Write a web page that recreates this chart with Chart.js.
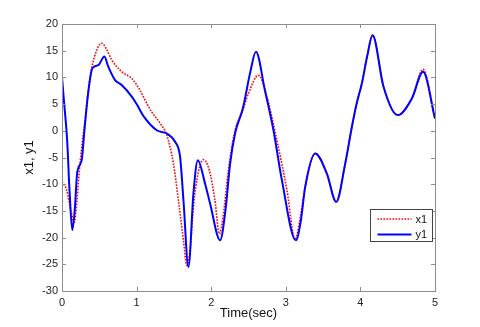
<!DOCTYPE html>
<html>
<head>
<meta charset="utf-8">
<script src="https://cdn.jsdelivr.net/npm/chart.js@4.4.0/dist/chart.umd.min.js"></script>
<style>
  html, body { margin: 0; padding: 0; background: #fff; }
  #c { display: block; }
</style>
</head>
<body>
<canvas id="c" width="480" height="327"></canvas>
<script>
// ---- Data ----
const x1Time = [0, 0.063, 0.12, 0.165, 0.2, 0.241, 0.309, 0.376, 0.45, 0.532, 0.6, 0.667, 0.8, 0.935, 1.046, 1.113, 1.2, 1.315, 1.405, 1.493, 1.56, 1.628, 1.673, 1.72, 1.762, 1.829, 1.896, 1.975, 2.05, 2.11, 2.16, 2.23, 2.32, 2.41, 2.5, 2.633, 2.746, 2.88, 3.015, 3.125, 3.19, 3.26, 3.394, 3.55, 3.676, 3.797, 3.886, 3.95, 4.02, 4.09, 4.163, 4.31, 4.5, 4.69, 4.84, 5.0];
const x1Values = [-9.5, -11.1, -15, -17.1, -13, -6.1, 2, 10.1, 14.5, 16.4, 15.2, 13.25, 11.06, 9.8, 7.6, 5.75, 3.6, 1.4, -0.8, -6.1, -13, -20.5, -25.2, -22, -14.25, -7.7, -5.4, -7.4, -13, -19.3, -16, -7.4, 0.1, 3.25, 7, 10.4, 6.4, -1.75, -11.1, -20.4, -16.5, -10.5, -4.25, -8, -13.3, -6.1, 0.75, 5.1, 8.9, 13.9, 17.9, 8.25, 2.94, 6.07, 11.5, 2.3];

const y1Time = [0, 0.03, 0.07, 0.1, 0.138, 0.17, 0.205, 0.264, 0.3, 0.35, 0.407, 0.487, 0.568, 0.62, 0.711, 0.8, 0.935, 1.0, 1.1, 1.27, 1.405, 1.516, 1.583, 1.628, 1.695, 1.762, 1.82, 1.918, 1.985, 2.12, 2.19, 2.254, 2.32, 2.43, 2.52, 2.6, 2.72, 2.835, 2.947, 3.135, 3.2, 3.26, 3.394, 3.55, 3.676, 3.797, 3.886, 3.95, 4.02, 4.09, 4.163, 4.31, 4.5, 4.69, 4.84, 5.0];
const y1Values = [10, 5, -2, -11, -18.6, -15, -7.7, -5.5, 0, 7, 11.7, 12.3, 13.9, 12, 9.5, 8.56, 6.4, 5, 2.6, 0.1, -0.5, -2.06, -4.9, -13, -25.5, -11.7, -5.5, -9.9, -13.6, -20.5, -15, -6.1, -0.5, 4.5, 10.75, 14.8, 7.6, 0.1, -9.2, -20.5, -17, -10.5, -4.25, -8, -13.3, -6.1, 0.75, 5.1, 8.9, 13.9, 17.9, 8.25, 2.94, 6.07, 11.06, 2.3];

const xTicks = [0, 1, 2, 3, 4, 5];
const yTicks = [20, 15, 10, 5, 0, -5, -10, -15, -20, -25, -30];
const seriesLabels = ['x1', 'y1'];

function toPoints(ts, vs) { return ts.map((t, i) => ({ x: t, y: vs[i] })); }

// ---- Plugins: box with inward ticks, and boxed legend ----
const boxPlugin = {
  id: 'boxTicks',
  afterDatasetsDraw(chart) {
    const { ctx, chartArea: a, scales } = chart;
    ctx.save();
    ctx.strokeStyle = '#8c8c8c';
    ctx.lineWidth = 1;
    ctx.strokeRect(Math.round(a.left) + 0.5, Math.round(a.top) + 0.5, Math.round(a.right - a.left), Math.round(a.bottom - a.top));
    const L = 4;
    ctx.beginPath();
    xTicks.forEach(v => {
      const px = Math.round(scales.x.getPixelForValue(v)) + 0.5;
      ctx.moveTo(px, a.bottom); ctx.lineTo(px, a.bottom - L);
      ctx.moveTo(px, a.top); ctx.lineTo(px, a.top + L);
    });
    yTicks.forEach(v => {
      const py = Math.round(scales.y.getPixelForValue(v)) + 0.5;
      ctx.moveTo(a.left, py); ctx.lineTo(a.left + L, py);
      ctx.moveTo(a.right, py); ctx.lineTo(a.right - L, py);
    });
    ctx.stroke();
    ctx.restore();
  }
};

const legendPlugin = {
  id: 'boxLegend',
  afterDraw(chart) {
    const { ctx, chartArea: a } = chart;
    const w = 62, h = 32;
    const bx = Math.round(a.right - 3.5 - w) + 0.5;
    const by = Math.round(a.top + 185) + 0.5;
    ctx.save();
    ctx.fillStyle = '#fff';
    ctx.fillRect(bx, by, w, h);
    ctx.strokeStyle = '#444';
    ctx.lineWidth = 1;
    ctx.strokeRect(bx, by, w, h);
    ctx.font = '11px "Liberation Sans", Arial, sans-serif';
    ctx.fillStyle = '#111';
    ctx.textBaseline = 'middle';
    chart.data.datasets.forEach((ds, i) => {
      const yy = by + 9.5 + i * 15.5;
      ctx.beginPath();
      ctx.strokeStyle = ds.borderColor;
      ctx.lineWidth = ds.borderWidth;
      ctx.setLineDash(ds.borderDash || []);
      ctx.moveTo(bx + 7, yy);
      ctx.lineTo(bx + 41, yy);
      ctx.stroke();
      ctx.setLineDash([]);
      ctx.fillText(ds.label, bx + 45, yy + 0.5);
    });
    ctx.restore();
  }
};

new Chart(document.getElementById('c'), {
  type: 'line',
  data: {
    datasets: [
      {
        label: seriesLabels[0],
        data: toPoints(x1Time, x1Values),
        borderColor: '#ff0000',
        borderWidth: 1.6,
        borderDash: [1.6, 1.4],
        pointRadius: 0,
        fill: false,
        cubicInterpolationMode: 'monotone',
        order: 1
      },
      {
        label: seriesLabels[1],
        data: toPoints(y1Time, y1Values),
        borderColor: '#0000ff',
        borderWidth: 2,
        pointRadius: 0,
        fill: false,
        cubicInterpolationMode: 'monotone',
        order: 0
      }
    ]
  },
  options: {
    responsive: false,
    animation: false,
    devicePixelRatio: 1,
    layout: { padding: { left: 0, top: 24, right: 45, bottom: 0 } },
    plugins: { legend: { display: false }, tooltip: { enabled: false } },
    scales: {
      x: {
        type: 'linear',
        min: 0, max: 5,
        afterFit(s) { s.height = 36; },
        afterBuildTicks(s) { s.ticks = xTicks.map(v => ({ value: v })); },
        grid: { drawOnChartArea: false, drawTicks: false },
        border: { display: false },
        ticks: { padding: 5, color: '#222', font: { size: 11, family: '"Liberation Sans", Arial, sans-serif' } },
        title: { display: true, text: 'Time(sec)', color: '#111', padding: { top: 0, bottom: 6 }, font: { size: 13, family: '"Liberation Sans", Arial, sans-serif' } }
      },
      y: {
        type: 'linear',
        min: -30, max: 20,
        afterFit(s) { s.width = 62; },
        afterBuildTicks(s) { s.ticks = yTicks.map(v => ({ value: v })); },
        grid: { drawOnChartArea: false, drawTicks: false },
        border: { display: false },
        ticks: { padding: 4, color: '#222', font: { size: 11, family: '"Liberation Sans", Arial, sans-serif' } },
        title: { display: true, text: 'x1, y1', color: '#111', padding: { top: 22, bottom: 0 }, font: { size: 13, family: '"Liberation Sans", Arial, sans-serif' } }
      }
    }
  },
  plugins: [boxPlugin, legendPlugin]
});
</script>
</body>
</html>
